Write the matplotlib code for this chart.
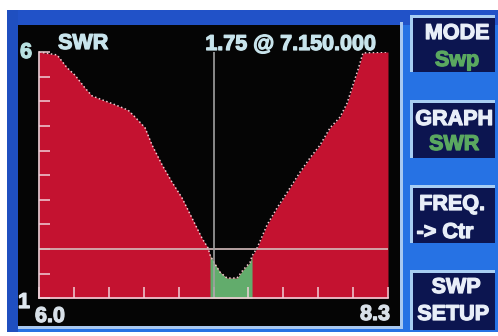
import numpy as np
import matplotlib
matplotlib.use("Agg")
import matplotlib.pyplot as plt
from matplotlib.patches import Rectangle
import matplotlib.patheffects as pe

freq = np.array([6.000, 6.119, 6.185, 6.237, 6.303, 6.349, 6.415, 6.501, 6.587, 6.633,
                 6.699, 6.745, 6.811, 6.876, 6.942, 7.008, 7.074, 7.114, 7.127, 7.147,
                 7.193, 7.239, 7.305, 7.344, 7.391, 7.404, 7.437, 7.503, 7.568, 7.654,
                 7.720, 7.786, 7.852, 7.918, 7.984, 8.030, 8.069, 8.102, 8.135, 8.300])
swr = np.array([6.00, 5.94, 5.68, 5.53, 5.27, 5.11, 5.03, 4.93, 4.82, 4.68,
                4.46, 4.11, 3.71, 3.36, 3.04, 2.63, 2.22, 2.02, 1.88, 1.76,
                1.53, 1.41, 1.41, 1.57, 1.73, 1.86, 2.02, 2.49, 2.83, 3.24,
                3.56, 3.85, 4.11, 4.46, 4.68, 4.96, 5.33, 5.64, 5.98, 6.00])
f_start, f_stop = 6.0, 8.3
swr_min, swr_max = 1.0, 6.0
swr_limit = 2.0
cursor_freq = 7.150
cursor_swr = 1.75
x_ticks = np.linspace(f_start, f_stop, 11)
y_ticks = np.arange(1.0, 6.01, 0.5)
buttons = [("MODE", "Swp"), ("GRAPH", "SWR"), ("FREQ.", "-> Ctr"), ("SWP", "SETUP")]

W, H = 498, 336
fig = plt.figure(figsize=(W / 100, H / 100), dpi=100, facecolor="white")

# ---- background / device frame in pixel coordinates ----
bg = fig.add_axes([0, 0, 1, 1], zorder=0)
bg.set_xlim(0, W)
bg.set_ylim(H, 0)
bg.axis("off")

blue = "#2672e4"
bg.add_patch(Rectangle((7, 10), W - 7, 322, color=blue, lw=0))
bg.add_patch(Rectangle((7, 10), W - 7, 15, color="#2152c8", lw=0))
bg.add_patch(Rectangle((7, 10), 11, 322, color="#1f4fc0", lw=0))
# screen
bg.add_patch(Rectangle((400, 22), 3, 307, color="#a8c8f0", lw=0))
bg.add_patch(Rectangle((18, 326), 385, 3, color="#a8c8f0", lw=0))
bg.add_patch(Rectangle((18, 25), 382, 301, color="#050505", lw=0))

fontfam = ["Liberation Sans", "DejaVu Sans"]
txt_col = "#c8e4ec"
fs = 15.5


def label(x, y, s, color):
    bg.text(x, y, s, ha="center", va="baseline", fontsize=fs, fontweight="bold",
            color=color, family=fontfam,
            path_effects=[pe.withStroke(linewidth=0.9, foreground=color)])


# buttons
box_tops = [15, 100, 185, 270]
box_bots = [72, 158, 243, 330]
line1_base = [39, 125, 210, 293]
line2_base = [66, 150, 238, 320]
line1_x = [457, 454, 452, 456]
line2_x = [457, 454, 445, 453]
for i, (t1, t2) in enumerate(buttons):
    top, bot = box_tops[i], box_bots[i]
    bg.add_patch(Rectangle((410, top), 85, bot - top, color="#0c1550", lw=0))
    bg.add_patch(Rectangle((410, top), 3, bot - top, color="#a8cef2", lw=0))
    bg.add_patch(Rectangle((410, top), 85, 3, color="#a8cef2", lw=0))
    c2 = "#5aa860" if i < 2 else "#e8eef8"
    label(line1_x[i], line1_base[i], t1, "#e8eef8")
    label(line2_x[i], line2_base[i], t2, c2)

# screen labels
label(83, 49, "SWR", txt_col)
label(291, 50, f"{cursor_swr:.2f} @ 7.150.000", txt_col)
label(26, 58, f"{swr_max:.0f}", "#b8e0e0")
label(24, 308, f"{swr_min:.0f}", "#e0e8f0")
label(50, 322, f"{f_start:.1f}", "#d8e0e8")
label(375, 320, f"{f_stop:.1f}", "#d8e0e8")

# ---- data axes ----
x0, x1 = 39, 388
y_top, y_bot = 52, 298.25
ax = fig.add_axes([x0 / W, (H - y_bot) / H, (x1 - x0) / W, (y_bot - y_top) / H], zorder=1)
ax.set_facecolor("none")
ax.set_xlim(f_start, f_stop)
ax.set_ylim(swr_min, swr_max)

ax.fill_between(freq, swr_min, swr, color="#c41230", lw=0, zorder=1)
ax.fill_between(freq, swr_min, swr, where=swr < swr_limit, color="#62ac6c", lw=0, zorder=1.5)
ax.plot(freq, swr, color="#f4c8d0", lw=1.1, ls=(0, (1, 1.6)), zorder=2)
ax.axhline(swr_limit, color="#d4bcbc", lw=1.2, zorder=2.2)
ax.axvline(cursor_freq, color="#a0a0a0", lw=1.2, zorder=2.2)

for s in ["top", "right"]:
    ax.spines[s].set_visible(False)
for s in ["left", "bottom"]:
    ax.spines[s].set_color("#f0d0d8")
    ax.spines[s].set_linewidth(1.2)
ax.set_xticks(x_ticks)
ax.set_yticks(y_ticks)
ax.tick_params(direction="in", length=8, width=1.1, color="#f0d0d8",
               labelbottom=False, labelleft=False)

fig.savefig("out.png", dpi=100, facecolor="white")
